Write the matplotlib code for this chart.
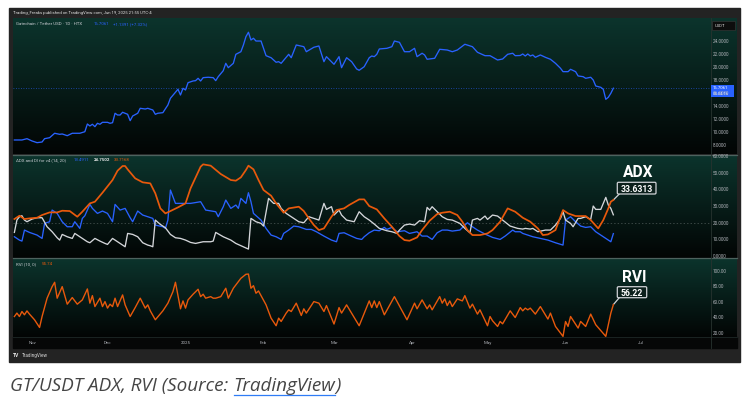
import numpy as np
import matplotlib
matplotlib.use("Agg")
import matplotlib.pyplot as plt
from matplotlib.patches import Rectangle, FancyBboxPatch
from matplotlib import font_manager

# ---------------- data (days counted from 2024-11-01) ----------------
BASE = np.datetime64("2024-11-01")

price_day = [-7, -4, -2, 0, 2, 4, 5, 7, 9, 11,
             12, 14, 16, 19, 21, 22, 23, 24, 25, 26,
             27, 28, 30, 31, 32, 33, 34, 35, 36, 38,
             39, 40, 42, 43, 45, 46, 48, 49, 50, 52,
             54, 55, 57, 58, 59, 60, 61, 62, 64, 65,
             66, 67, 68, 70, 72, 73, 74, 76, 77, 78,
             80, 81, 83, 84, 85, 86, 87, 88, 89, 91,
             93, 95, 97, 98, 99, 102, 103, 105, 108, 109,
             112, 114, 116, 117, 120, 122, 123, 125, 127, 129,
             130, 132, 134, 135, 136, 137, 138, 141, 143, 144,
             146, 148, 150, 152, 153, 155, 156, 157, 160, 162,
             165, 167, 169, 172, 175, 177, 180, 182, 185, 187,
             189, 191, 192, 194, 195, 196, 197, 198, 199, 200,
             202, 204, 206, 208, 210, 211, 213, 214, 216, 217,
             219, 220, 222, 223, 224, 226, 227, 228, 229, 230, 231]
price_val = [8.77, 8.77, 8.97, 8.62, 8.36, 8.46, 8.97, 9.12, 9.80, 9.64,
             9.69, 9.43, 9.80, 9.80, 10.04, 11.22, 10.92, 11.18, 10.81, 11.33,
             11.18, 11.48, 11.48, 11.33, 11.42, 12.87, 12.60, 12.60, 13.02, 12.71,
             11.73, 12.45, 12.87, 13.63, 13.52, 13.63, 13.37, 12.71, 12.87, 12.96,
             14.14, 15.17, 16.09, 16.55, 15.67, 16.70, 16.44, 17.56, 17.82, 17.87,
             18.23, 17.82, 18.33, 18.39, 18.33, 17.87, 18.48, 19.40, 20.53, 19.86,
             20.53, 21.91, 22.31, 23.34, 24.61, 25.29, 24.11, 24.37, 23.95, 23.95,
             21.70, 21.39, 20.69, 20.78, 20.53, 21.91, 21.39, 23.34, 23.08, 22.31,
             22.99, 23.19, 20.78, 21.55, 20.38, 21.55, 19.86, 21.39, 20.78, 19.66,
             19.46, 20.01, 21.39, 21.65, 21.55, 21.91, 22.73, 22.83, 23.08, 23.95,
             23.75, 22.31, 22.31, 22.83, 21.55, 22.07, 21.81, 21.15, 21.30, 22.68,
             22.57, 22.31, 22.57, 23.45, 23.08, 22.22, 21.70, 21.70, 21.04, 21.19,
             21.91, 22.07, 21.70, 21.73, 21.96, 21.65, 21.96, 21.65, 21.81, 21.45,
             21.81, 21.45, 21.15, 20.53, 19.77, 19.25, 19.25, 19.61, 19.25, 18.59,
             18.48, 18.23, 18.39, 17.97, 17.05, 16.85, 16.55, 15.01, 15.32, 15.93, 16.71]

adx_day = [-7, -5, -3, -1, 2, 4, 7, 10, 12, 15,
           18, 20, 23, 25, 28, 32, 34, 36, 37, 38,
           41, 44, 47, 49, 51, 53, 55, 58, 61, 63,
           67, 68, 71, 75, 79, 81, 83, 85, 86, 88,
           90, 92, 95, 97, 100, 102, 106, 108, 110, 112,
           114, 116, 119, 121, 124, 126, 130, 132, 134, 137,
           140, 143, 146, 148, 150, 153, 155, 158, 161, 163,
           166, 169, 171, 173, 175, 178, 181, 183, 186, 189,
           192, 195, 198, 201, 203, 205, 208, 211, 213, 216,
           220, 222, 225, 227, 229, 230, 231]
adx_val = [22.2, 24.2, 22.2, 22.6, 23.0, 24.6, 26.2, 26.2, 27.2, 27.0,
           23.6, 26.6, 31.6, 32.6, 38.0, 45.6, 51.2, 54.0, 54.0, 52.0,
           46.6, 44.2, 43.6, 37.6, 28.6, 25.6, 27.0, 29.2, 31.6, 40.6,
           53.6, 55.0, 54.2, 49.2, 45.6, 45.2, 47.2, 51.6, 54.2, 52.0,
           45.6, 39.6, 36.2, 31.6, 26.0, 28.6, 29.6, 27.0, 22.6, 18.6,
           15.6, 16.6, 23.6, 27.6, 28.6, 30.6, 34.0, 34.0, 30.0, 28.0,
           22.6, 17.6, 12.0, 9.6, 9.2, 11.2, 15.6, 21.2, 25.2, 26.0,
           26.6, 24.6, 20.6, 15.6, 12.6, 12.6, 13.6, 15.6, 20.6, 28.6,
           26.6, 23.0, 20.6, 16.6, 12.6, 13.0, 15.6, 27.6, 25.6, 24.0,
           24.0, 21.6, 16.6, 21.6, 28.6, 32.6, 33.63]

pdi_day = [-7, -5, -4, -3, -1, 2, 4, 5, 7, 8,
           10, 12, 14, 16, 17, 19, 20, 21, 23, 24,
           26, 28, 30, 32, 33, 35, 37, 39, 40, 42,
           44, 46, 48, 49, 52, 53, 54, 55, 57, 60,
           63, 67, 69, 73, 74, 76, 77, 79, 81, 82,
           83, 85, 86, 87, 88, 91, 93, 95, 97, 99,
           100, 102, 104, 106, 109, 111, 113, 116, 119, 121,
           122, 124, 126, 129, 131, 132, 134, 136, 138, 140,
           141, 143, 145, 148, 150, 153, 155, 157, 159, 161,
           163, 165, 167, 170, 173, 175, 177, 180, 183, 186,
           188, 191, 192, 194, 195, 197, 199, 202, 205, 208,
           211, 212, 214, 216, 218, 220, 222, 224, 226, 229,
           230, 231]
pdi_val = [11.6, 9.6, 9.0, 15.6, 14.2, 12.6, 10.6, 19.6, 20.6, 27.6,
           25.6, 20.6, 17.6, 17.6, 20.6, 16.6, 22.6, 24.2, 31.0, 28.6,
           25.6, 27.0, 25.6, 20.6, 31.0, 27.6, 28.6, 23.0, 20.6, 27.0,
           24.6, 23.6, 22.6, 18.6, 17.6, 16.6, 21.6, 39.6, 31.6, 31.6,
           31.6, 32.6, 27.6, 26.6, 23.6, 29.6, 33.6, 28.6, 30.6, 28.6,
           34.6, 31.6, 38.0, 32.6, 25.6, 21.6, 16.6, 12.6, 11.6, 10.0,
           13.6, 15.6, 18.0, 17.6, 16.0, 16.0, 14.6, 12.0, 9.6, 8.6,
           13.6, 14.0, 12.6, 10.6, 10.0, 11.6, 14.0, 15.6, 15.2, 17.2,
           16.0, 17.2, 14.6, 15.2, 13.6, 14.6, 12.0, 12.0, 10.0, 14.0,
           15.6, 15.6, 15.0, 15.6, 20.0, 17.6, 15.6, 13.2, 11.2, 10.0,
           12.0, 15.6, 14.6, 14.6, 13.6, 12.6, 11.6, 10.6, 9.6, 8.0,
           6.6, 21.6, 23.6, 20.6, 18.0, 17.2, 17.6, 14.6, 12.6, 9.6,
           8.6, 13.49]

mdi_day = [-7, -6, -5, -4, -3, -2, 0, 2, 4, 6,
           8, 10, 11, 12, 14, 16, 17, 19, 22, 23,
           25, 27, 29, 30, 32, 34, 37, 38, 40, 42,
           44, 46, 47, 48, 49, 51, 53, 55, 57, 59,
           61, 63, 65, 68, 71, 72, 73, 76, 79, 81,
           84, 86, 87, 89, 91, 92, 94, 96, 98, 99,
           101, 104, 106, 108, 110, 112, 114, 116, 117, 119,
           120, 122, 123, 125, 128, 130, 132, 134, 136, 138,
           141, 143, 145, 146, 148, 150, 152, 154, 156, 157,
           158, 159, 161, 163, 165, 167, 170, 172, 174, 175,
           177, 178, 180, 181, 183, 185, 187, 190, 193, 195,
           196, 198, 199, 201, 204, 206, 208, 210, 211, 212,
           214, 215, 217, 218, 220, 222, 223, 224, 226, 228,
           229, 230, 231]
mdi_val = [14.2, 21.6, 23.6, 24.2, 21.6, 20.6, 22.2, 23.0, 23.0, 17.6,
           14.6, 11.0, 9.6, 13.0, 11.6, 10.6, 13.6, 11.6, 8.6, 8.0,
           10.6, 9.0, 7.6, 7.0, 10.6, 8.6, 5.6, 13.6, 13.0, 11.6,
           8.0, 6.6, 6.2, 5.6, 21.6, 19.0, 17.0, 13.0, 11.0, 10.6,
           9.6, 8.2, 7.6, 8.6, 8.6, 9.0, 14.2, 11.6, 9.6, 7.6,
           5.6, 4.2, 22.6, 20.6, 19.6, 18.0, 34.6, 31.6, 31.6, 28.6,
           25.6, 22.6, 20.6, 20.0, 23.6, 22.6, 21.6, 31.6, 28.0, 29.6,
           24.6, 27.6, 24.6, 21.6, 20.6, 26.6, 23.6, 21.6, 19.2, 16.6,
           15.2, 14.6, 13.6, 15.6, 18.6, 19.2, 18.6, 21.2, 20.6, 29.2,
           27.6, 29.6, 26.6, 23.6, 22.0, 21.6, 19.6, 16.6, 14.0, 21.6,
           22.6, 21.6, 24.0, 22.0, 24.6, 24.0, 21.6, 18.0, 16.6, 16.2,
           16.6, 16.2, 16.6, 14.6, 15.6, 15.6, 18.6, 22.6, 26.6, 21.6,
           19.6, 17.6, 22.6, 22.6, 23.6, 22.0, 30.0, 28.0, 28.0, 35.2,
           30.6, 28.6, 24.75]

rvi_day = [-7, -6, -5, -4, -3, -2, -1, 1, 3, 4,
           6, 8, 9, 10, 12, 14, 16, 18, 20, 22,
           23, 24, 25, 27, 28, 29, 30, 31, 32, 33,
           34, 36, 37, 39, 41, 43, 45, 46, 47, 49,
           52, 54, 56, 57, 59, 60, 61, 62, 64, 66,
           67, 68, 69, 71, 72, 73, 75, 77, 78, 80,
           83, 85, 86, 87, 88, 89, 90, 93, 95, 97,
           98, 99, 101, 102, 103, 105, 107, 108, 109, 112,
           114, 116, 117, 120, 122, 123, 125, 130, 134, 135,
           136, 137, 138, 140, 144, 149, 152, 153, 155, 157,
           158, 159, 162, 163, 164, 165, 166, 167, 169, 171,
           172, 174, 175, 177, 178, 181, 182, 183, 185, 186,
           187, 190, 192, 194, 195, 196, 197, 198, 200, 202,
           205, 206, 208, 211, 212, 213, 214, 217, 218, 220,
           222, 224, 228, 230, 231]
rvi_val = [40.9, 45.3, 40.9, 47.3, 43.1, 48.1, 44.0, 36.7, 26.8, 40.9,
           64.5, 79.4, 85.0, 64.5, 79.4, 56.8, 65.3, 56.8, 62.3, 76.4,
           58.1, 67.8, 53.7, 64.5, 53.7, 60.1, 51.7, 56.8, 53.7, 64.5,
           53.7, 68.7, 55.9, 40.9, 52.4, 64.5, 51.7, 55.9, 48.2, 36.7,
           48.2, 58.1, 72.9, 85.0, 50.8, 61.0, 51.7, 62.3, 69.6, 76.0,
           66.5, 69.6, 64.5, 66.5, 64.5, 64.5, 66.5, 77.3, 64.5, 77.3,
           90.1, 95.3, 95.6, 77.3, 80.6, 70.9, 73.8, 55.9, 38.8, 29.0,
           38.8, 34.5, 45.3, 49.5, 47.3, 58.1, 42.2, 50.8, 45.3, 60.1,
           58.1, 47.3, 55.0, 31.2, 52.4, 45.3, 55.9, 29.0, 61.0, 52.4,
           61.0, 52.4, 60.1, 43.1, 66.5, 36.7, 58.1, 50.8, 62.3, 50.8,
           55.9, 49.5, 66.5, 58.1, 63.6, 55.0, 61.0, 53.7, 63.6, 61.0,
           67.8, 51.7, 56.8, 44.0, 49.5, 29.0, 40.9, 35.4, 28.1, 34.5,
           31.5, 48.2, 39.6, 52.4, 48.2, 51.7, 49.5, 51.7, 44.0, 53.7,
           37.6, 45.3, 28.1, 15.3, 34.5, 28.1, 40.9, 26.0, 34.5, 28.1,
           44.0, 30.3, 15.3, 45.3, 56.22]

month_dates = ["2024-11-01", "2024-12-01", "2025-01-01", "2025-02-01", "2025-03-01",
               "2025-04-01", "2025-05-01", "2025-06-01", "2025-07-01"]
month_labels = ["Nov", "Dec", "2025", "Feb", "Mar", "Apr", "May", "Jun", "Jul"]
price_ticks = [8, 10, 12, 14, 16, 18, 20, 22, 24]
adx_ticks = [0, 10, 20, 30, 40, 50, 60]
rvi_ticks = [20, 40, 60, 80, 100]

last_price = 16.7061
price_change = "+1.1391 (+7.32%)"
countdown = "04:04:16"
legend_pdi, legend_mdi, legend_adx = "13.4911", "24.7502", "33.7168"
legend_rvi = "55.74"
adx_callout = 33.6313
rvi_callout = 56.22

# ---------------- styling ----------------
W, H = 747, 397
BLUE = "#2962ff"
WHITE_LINE = "#d4d6da"
ORANGE = "#e8590c"
TICK_C = "#aeb1b7"
FONT = "Roboto"

# caption font: first family that has a real italic face
CAP_FONT = "DejaVu Sans"
for fam in ["Open Sans", "Roboto", "Lato", "Noto Sans", "Liberation Sans"]:
    if any(f.name == fam and f.style == "italic" for f in font_manager.fontManager.ttflist):
        CAP_FONT = fam
        break

month_days = [int((np.datetime64(d) - BASE).astype(int)) for d in month_dates]

fig = plt.figure(figsize=(W / 100, H / 100), dpi=100)
fig.patch.set_facecolor("white")


def rect(x0, y0, x1, y1):
    return [x0 / W, 1 - y1 / H, (x1 - x0) / W, (y1 - y0) / H]


bg = fig.add_axes([0, 0, 1, 1])
bg.set_xlim(0, W)
bg.set_ylim(H, 0)
bg.axis("off")

# frame
bg.add_patch(Rectangle((9, 8), 731, 354, color="#232323", zorder=0))


def gradient(y0, y1, x0=13, x1=737):
    t = np.linspace(0, 1, 200)[:, None]
    top = np.array([0.045, 0.205, 0.175])
    bot = np.array([0.008, 0.018, 0.016])
    img = (top * (1 - t) + bot * t)[:, None, :]
    bg.imshow(img, extent=(x0, x1, y1, y0), aspect="auto",
              interpolation="bilinear", zorder=1)


gradient(18, 154)
gradient(155, 257.6)
gradient(258.6, 337)
bg.add_patch(Rectangle((13, 337), 724, 11, color="#060707", zorder=1))
bg.set_xlim(0, W)
bg.set_ylim(H, 0)

# separators
for yy in (154.6, 258.1):
    bg.plot([13, 737], [yy, yy], color="#4d625e", lw=0.9, zorder=2)
bg.plot([13, 737], [337.3, 337.3], color="#1d2827", lw=0.6, zorder=2)
bg.plot([711, 711], [18, 348], color="#27332f", lw=0.6, zorder=2)

# header and footer
bg.text(13, 13.2, "Trading_Freaks published on TradingView.com, Jun 19, 2025 21:55 UTC-4",
        fontsize=3.1, color="#dcdcdc", va="center", ha="left", family=FONT, zorder=3)
bg.text(13, 355.6, "TV", fontsize=3.6, fontweight="bold", color="#e6e6e6",
        va="center", ha="left", family=FONT, zorder=3)
bg.text(21.5, 355.6, "TradingView", fontsize=3.3, color="#d8d8d8",
        va="center", ha="left", family=FONT, zorder=3)

# ---------------- panes ----------------
XL = (-7.55, 269.8)
ax1 = fig.add_axes(rect(13, 18, 711, 154))
ax2 = fig.add_axes(rect(13, 155, 711, 257.6))
ax3 = fig.add_axes(rect(13, 258.6, 711, 337))
for ax in (ax1, ax2, ax3):
    ax.set_facecolor("none")
    ax.set_xlim(*XL)
    for s in ax.spines.values():
        s.set_visible(False)
    ax.yaxis.tick_right()
    ax.tick_params(axis="y", length=0, pad=1.5, labelsize=3.3, labelcolor=TICK_C)
    ax.tick_params(axis="x", length=0)

ax1.set_ylim(6.62, 27.48)
ax1.plot(price_day, price_val, color=BLUE, lw=0.95, solid_joinstyle="round")
ax1.axhline(last_price, color=BLUE, lw=0.6, ls=(0, (1, 2)), alpha=0.75)
ax1.set_yticks(price_ticks)
ax1.set_yticklabels([f"{v:.4f}" for v in price_ticks], family=FONT)
ax1.set_xticks([])

ax2.set_ylim(-0.9, 60.6)
ax2.axhline(20, color="#6f7a78", lw=0.5, ls=(0, (2, 3)), alpha=0.7)
ax2.plot(pdi_day, pdi_val, color=BLUE, lw=0.95)
ax2.plot(mdi_day, mdi_val, color=WHITE_LINE, lw=0.95)
ax2.plot(adx_day, adx_val, color=ORANGE, lw=1.25)
ax2.set_yticks(adx_ticks)
ax2.set_yticklabels([f"{v:.4f}" for v in adx_ticks], family=FONT)
ax2.set_xticks([])

ax3.set_ylim(14.5, 115.5)
ax3.plot(rvi_day, rvi_val, color=ORANGE, lw=1.0)
ax3.set_yticks(rvi_ticks)
ax3.set_yticklabels([f"{v:.2f}" for v in rvi_ticks], family=FONT)
ax3.set_xticks(month_days)
ax3.set_xticklabels(month_labels, family=FONT)
ax3.tick_params(axis="x", pad=3.0, labelsize=3.2, labelcolor=TICK_C)


# ---------------- legends ----------------
def tt(x, y, s, c, **kw):
    bg.text(x, y, s, fontsize=3.2, color=c, va="center", ha="left",
            family=FONT, zorder=4, **kw)


tt(16, 24.4, "Gatechain / Tether USD · 1D · HTX", "#c9ccd1")
tt(93.3, 24.4, f"{last_price:.4f}", BLUE)
tt(113, 24.4, price_change, BLUE)
tt(16, 160.2, "ADX and DI for v4 (14, 20)", "#c9ccd1")
tt(74, 160.2, legend_pdi, BLUE)
tt(94, 160.2, legend_mdi, "#e8e8e8", fontweight="bold")
tt(114, 160.2, legend_adx, ORANGE)
tt(16, 263.8, "RVI (10, 0)", "#c9ccd1")
tt(41.7, 263.8, legend_rvi, ORANGE)

# ---------------- right-axis boxes ----------------
inv = bg.transData.inverted()


def to_bg(ax, x, y):
    return inv.transform(ax.transData.transform((x, y)))


bg.add_patch(Rectangle((712, 21), 23, 9, fc="#0d0d0d", ec="#3a3a3a", lw=0.4, zorder=4))
bg.text(714.5, 25.6, "USDT", fontsize=3.1, color="#d6d6d6", va="center", ha="left",
        family=FONT, zorder=5)

_, py = to_bg(ax1, price_day[-1], last_price)
bg.add_patch(Rectangle((711, py - 3.5), 23.3, 12.4, fc=BLUE, ec="none", zorder=4))
bg.text(713, py + 0.2, f"{last_price:.4f}", fontsize=3.1, color="white",
        va="center", ha="left", family=FONT, zorder=5)
bg.text(713, py + 5.9, countdown, fontsize=3.1, color="white",
        va="center", ha="left", family=FONT, zorder=5)


# ---------------- callouts ----------------
def callout(ax, xd, yd, title, title_base, value_txt, box, val_base):
    x0, y0, x1, y1 = box
    px, pyy = to_bg(ax, xd, yd)
    bg.plot([x0 + 2.0, px], [y1, pyy], color="#cfd2d6", lw=0.9, zorder=5,
            solid_capstyle="round")
    bg.add_patch(FancyBboxPatch((x0, y0), x1 - x0, y1 - y0,
                                boxstyle="round,pad=0,rounding_size=1.2",
                                fc="#0c201c", ec="#cfd2d6", lw=0.9, zorder=6))
    bg.text((x0 + x1) / 2, val_base, value_txt, fontsize=6.2, fontweight="bold",
            color="white", ha="center", va="baseline", family=FONT, zorder=7)
    bg.text((x0 + x1) / 2 + 2, title_base, title, fontsize=11.2, fontweight="bold",
            color="white", ha="center", va="baseline", family=FONT, zorder=7)


callout(ax2, adx_day[-1], adx_callout, "ADX", 177.3, f"{adx_callout:.4f}",
        (617.3, 182.3, 656.0, 194.0), 191.6)
callout(ax3, rvi_day[-1], rvi_callout, "RVI", 281.7, f"{rvi_callout:.2f}",
        (617.3, 286.7, 646.7, 297.7), 295.6)

# ---------------- caption ----------------
renderer = fig.canvas.get_renderer()
cap_txt_a, cap_txt_b, cap_txt_c = "GT/USDT ADX, RVI (Source:", "TradingView", ")"
CAP_X0, CAP_X1, CAP_BASE = 10.0, 346.0, 390.7


def px_width(s, fs):
    t = bg.text(0, 0, s, fontsize=fs, style="italic", family=CAP_FONT)
    w = t.get_window_extent(renderer).width
    t.remove()
    return w


fs0 = 10.8
full_w = px_width(cap_txt_a + " " + cap_txt_b + cap_txt_c, fs0)
cap_fs = min(fs0 * (CAP_X1 - CAP_X0) / full_w, 13.6)
cap_kw = dict(fontsize=cap_fs, style="italic", color="#454545", va="baseline",
              ha="left", family=CAP_FONT)
t1 = bg.text(CAP_X0, CAP_BASE, cap_txt_a, **cap_kw)
bb = t1.get_window_extent(renderer)
x_end = inv.transform((bb.x1, bb.y0))[0]
t2 = bg.text(x_end + 0.28 * cap_fs * 1.389, CAP_BASE, cap_txt_b, **cap_kw)
bb2 = t2.get_window_extent(renderer)
x2a = inv.transform((bb2.x0, bb2.y0))[0]
x2b = inv.transform((bb2.x1, bb2.y0))[0]
bg.text(x2b, CAP_BASE, cap_txt_c, **cap_kw)
bg.plot([x2a, x2b], [395.2, 395.2], color="#2f7cf6", lw=0.9)

bg.set_xlim(0, W)
bg.set_ylim(H, 0)
fig.savefig("out.png", dpi=100, facecolor="white")
